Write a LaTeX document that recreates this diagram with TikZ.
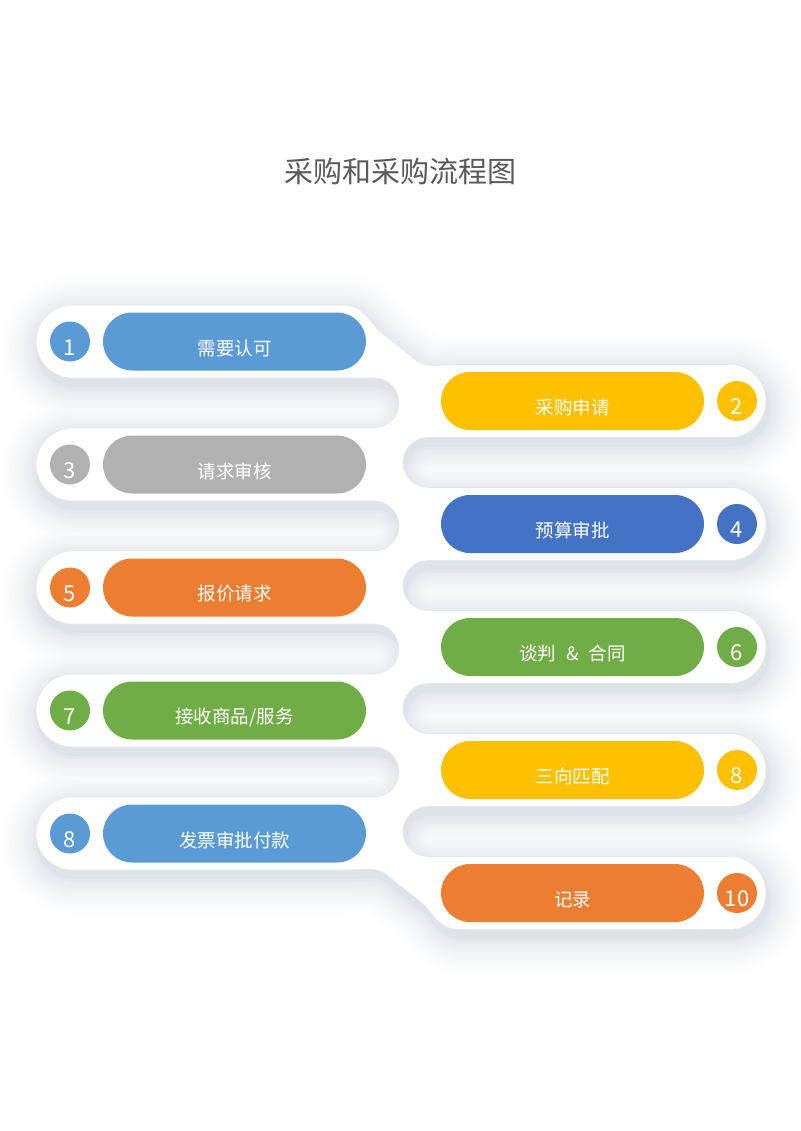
\documentclass[tikz,border=0pt]{standalone}
\usepackage{fontspec}
\setmainfont{Noto Sans CJK SC}
\usetikzlibrary{shapes.misc}
\definecolor{cblue}{HTML}{5B9BD5}
\definecolor{cyellow}{HTML}{FFC000}
\definecolor{cgrey}{HTML}{B1B1B1}
\definecolor{cdblue}{HTML}{4472C4}
\definecolor{corange}{HTML}{ED7D31}
\definecolor{cgreen}{HTML}{70AD47}
\definecolor{titlec}{HTML}{595959}
\definecolor{shd}{RGB}{222,226,233}
\definecolor{edgec}{RGB}{228,231,236}
\newcommand\snakepath{(72.5,305) -- (343,305) .. controls (360,305) and (366,316) .. (377,329) -- (417,361) .. controls (428,368) and (438,364.5) .. (460,364.5)
 -- (729.5,364.5) arc[start angle=-90,end angle=90,radius=36.5]
 -- (428,437.5) arc[start angle=-90,end angle=-270,radius=25]
 -- (729.5,487.5) arc[start angle=-90,end angle=90,radius=36.5]
 -- (428,560.5) arc[start angle=-90,end angle=-270,radius=25]
 -- (729.5,610.5) arc[start angle=-90,end angle=90,radius=36.5]
 -- (428,683.5) arc[start angle=-90,end angle=-270,radius=25]
 -- (729.5,733.5) arc[start angle=-90,end angle=90,radius=36.5]
 -- (428,806.5) arc[start angle=-90,end angle=-270,radius=25]
 -- (729.5,856.5) arc[start angle=-90,end angle=90,radius=36.5]
 -- (459,929.5) .. controls (442,929.5) and (436,918.5) .. (425,905.5) -- (385,873.5) .. controls (374,866.5) and (364,870) .. (342,870)
 -- (72.5,870) arc[start angle=90,end angle=270,radius=36.5]
 -- (374,797) arc[start angle=90,end angle=-90,radius=25]
 -- (72.5,747) arc[start angle=90,end angle=270,radius=36.5]
 -- (374,674) arc[start angle=90,end angle=-90,radius=25]
 -- (72.5,624) arc[start angle=90,end angle=270,radius=36.5]
 -- (374,551) arc[start angle=90,end angle=-90,radius=25]
 -- (72.5,501) arc[start angle=90,end angle=270,radius=36.5]
 -- (374,428) arc[start angle=90,end angle=-90,radius=25]
 -- (72.5,378) arc[start angle=90,end angle=270,radius=36.5]
 -- cycle}
\tikzset{
  pillbox/.style={rounded rectangle, minimum width=263pt, minimum height=58pt, inner sep=0pt, draw=none},
  numdot/.style={circle, minimum size=40pt, inner sep=0pt, draw=none},
  lbl/.style={text=white, font=\fontsize{18.5}{22}\selectfont, inner sep=0pt},
  numlbl/.style={text=white, font=\fontsize{22}{26}\selectfont, inner sep=0pt},
  titlelbl/.style={text=titlec, font=\fontsize{29}{34}\selectfont, inner sep=0pt}
}
\newcommand\rowL[5]{%
  \node[pillbox, fill=#3] (p#1) at (234.5,#2) {};
  \node[numdot, fill=#3] (d#1) at (70,#2) {};
  \node[lbl] (t#1) at ([yshift=-6.5pt]p#1.center) {#4};
  \node[numlbl] (n#1) at ([yshift=-6pt]d#1.center) {#5};}
\newcommand\rowR[5]{%
  \node[pillbox, fill=#3] (p#1) at (572.5,#2) {};
  \node[numdot, fill=#3] (d#1) at (737,#2) {};
  \node[lbl] (t#1) at ([yshift=-6.5pt]p#1.center) {#4};
  \node[numlbl] (n#1) at ([yshift=-6pt]d#1.center) {#5};}
\begin{document}
\begin{tikzpicture}[x=1pt,y=-1pt]
\fill[white] (0,0) rectangle (800,1131);
\useasboundingbox (0,0) rectangle (800,1131);
% soft shadow
\begin{scope}[shift={(2,7)}]
  \foreach \d in {44,41,...,5}{
    \pgfmathtruncatemacro\p{100*(1-\d/46)^1.8}
    \draw[line width=2*\d, draw=shd!\p!white, line join=round] \snakepath;
  }
  \draw[line width=4, draw=shd, fill=shd] \snakepath;
\end{scope}
% white snake band
\fill[white] \snakepath;
\draw[edgec, line width=0.6] \snakepath;
% title
\node[titlelbl] (title) at (400,171) {采购和采购流程图};
% rows
\rowL{1}{341.5}{cblue}{需要认可}{1}
\rowR{2}{401}{cyellow}{采购申请}{2}
\rowL{3}{464.5}{cgrey}{请求审核}{3}
\rowR{4}{524}{cdblue}{预算审批}{4}
\rowL{5}{587.5}{corange}{报价请求}{5}
\rowR{6}{647}{cgreen}{谈判\hspace{0.55em}\&\hspace{0.55em}合同}{6}
\rowL{7}{710.5}{cgreen}{接收商品/服务}{7}
\rowR{8}{770}{cyellow}{三向匹配}{8}
\rowL{9}{833.5}{cblue}{发票审批付款}{8}
\rowR{10}{893}{corange}{记录}{10}
\end{tikzpicture}
\end{document}
